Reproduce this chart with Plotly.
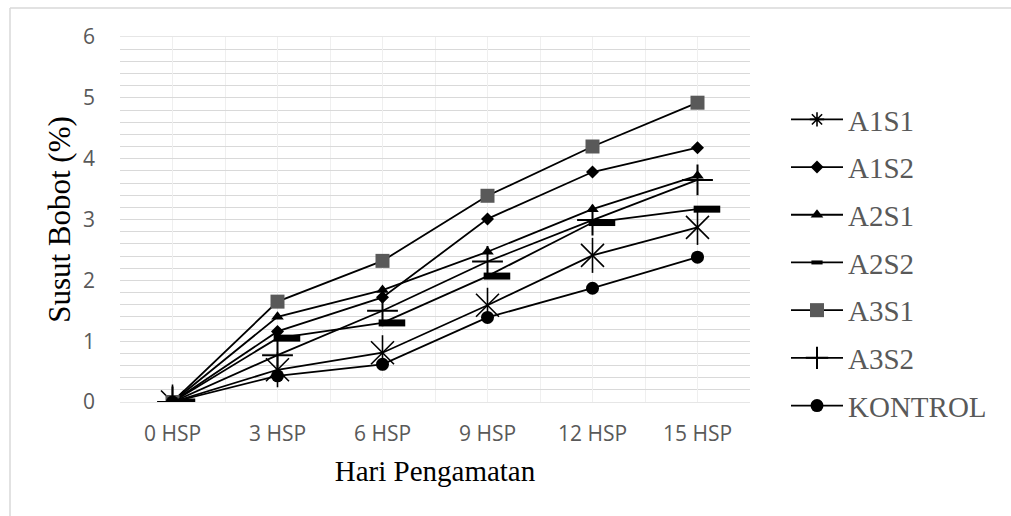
import plotly.graph_objects as go

days = ["0 HSP", "3 HSP", "6 HSP", "9 HSP", "12 HSP", "15 HSP"]
A1S1 = [0, 0.53, 0.81, 1.59, 2.41, 2.87]
A1S2 = [0, 1.16, 1.72, 3.01, 3.78, 4.18]
A2S1 = [0, 1.40, 1.84, 2.47, 3.17, 3.72]
A2S2 = [0, 1.05, 1.30, 2.07, 2.95, 3.17]
A3S1 = [0, 1.65, 2.32, 3.39, 4.20, 4.92]
A3S2 = [0, 0.77, 1.50, 2.31, 2.99, 3.65]
KONTROL = [0, 0.43, 0.62, 1.39, 1.87, 2.38]

xi = list(range(len(days)))
dash_shift = 0.09
LW = 1.8
BLACK = "#000000"

fig = go.Figure()

def line_trace(name, y, symbol, size, color=BLACK, mlw=0, group=None, showlegend=True):
    return go.Scatter(
        x=xi, y=y, name=name, mode="lines+markers",
        line=dict(color=BLACK, width=LW),
        marker=dict(symbol=symbol, size=size, color=color,
                    line=dict(color=color, width=mlw)),
        legendgroup=group or name, showlegend=showlegend,
    )

# A1S1 : star = X + vertical bar
fig.add_trace(line_trace("A1S1", A1S1, "x-thin-open", 23, mlw=1.6, group="A1S1", showlegend=False))
fig.add_trace(go.Scatter(x=xi, y=A1S1, mode="markers", showlegend=False, legendgroup="A1S1",
                         marker=dict(symbol="line-ns-open", size=25, color=BLACK,
                                     line=dict(color=BLACK, width=1.6))))
fig.add_trace(go.Scatter(x=[None], y=[None], name="A1S1", mode="lines+markers", legendgroup="A1S1",
                         line=dict(color=BLACK, width=LW),
                         marker=dict(symbol="asterisk-open", size=12, color=BLACK,
                                     line=dict(color=BLACK, width=1.6))))
fig.add_trace(line_trace("A1S2", A1S2, "diamond", 10))
fig.add_trace(line_trace("A2S1", A2S1, "triangle-up", 11))
# A2S2 : dash marker drawn slightly right of the point, like the original
fig.add_trace(go.Scatter(x=xi, y=A2S2, mode="lines", line=dict(color=BLACK, width=LW),
                         showlegend=False, legendgroup="A2S2"))
fig.add_trace(go.Scatter(x=[v + dash_shift for v in xi], y=A2S2, mode="markers",
                         showlegend=False, legendgroup="A2S2",
                         marker=dict(symbol="line-ew-open", size=19, color=BLACK,
                                     line=dict(color=BLACK, width=7))))
fig.add_trace(go.Scatter(x=[None], y=[None], name="A2S2", mode="lines+markers", legendgroup="A2S2",
                         line=dict(color=BLACK, width=LW),
                         marker=dict(symbol="line-ew-open", size=8, color=BLACK,
                                     line=dict(color=BLACK, width=4))))
fig.add_trace(line_trace("A3S1", A3S1, "square", 14, color="#595959"))
fig.add_trace(line_trace("A3S2", A3S2, "cross-thin-open", 22, mlw=2))
fig.add_trace(line_trace("KONTROL", KONTROL, "circle", 13))

L, R, T, B = 120, 261, 37, 114
W, H = 1011, 516
pw, ph = W - L - R, H - T - B

def px_x(p):
    return (p - L) / pw

def px_y(p):
    return (H - B - p) / ph

fig.update_layout(
    width=W, height=H,
    margin=dict(l=L, r=R, t=T, b=B, autoexpand=False),
    paper_bgcolor="white", plot_bgcolor="white",
    showlegend=True,
    legend=dict(
        x=px_x(786), y=px_y(94), xanchor="left", yanchor="top",
        font=dict(family="Liberation Serif", size=29, color="#595959"),
        traceorder="grouped", tracegroupgap=7, itemwidth=52,
        bgcolor="rgba(0,0,0,0)",
    ),
    xaxis=dict(
        range=[-0.5, 5.5], tickmode="array", tickvals=xi, ticktext=days,
        showgrid=True, gridcolor="#efefef", gridwidth=1.3,
        minor=dict(dtick=0.5, tick0=0.5, showgrid=True, gridcolor="#efefef", gridwidth=1.3),
        showline=True, linecolor="#e6e6e6", linewidth=1.3, mirror=True,
        zeroline=False, ticks="", ticklabelstandoff=13,
        tickfont=dict(family="Open Sans", size=21, color="#595959"),
        title=dict(text="Hari Pengamatan", standoff=14,
                   font=dict(family="Liberation Serif", size=29, color="#000000")),
        fixedrange=True, automargin=False,
    ),
    yaxis=dict(
        range=[0, 6], dtick=1, tick0=0,
        showgrid=True, gridcolor="#d9d9d9", gridwidth=1.3,
        minor=dict(dtick=0.2, showgrid=True, gridcolor="#d9d9d9", gridwidth=1.3),
        zeroline=False, showline=False, ticks="", ticklabelstandoff=24,
        tickfont=dict(family="Open Sans", size=21, color="#595959"),
        title=dict(text="Susut Bobot (%)", standoff=3,
                   font=dict(family="Liberation Serif", size=31, color="#000000")),
        fixedrange=True, automargin=False,
    ),
    shapes=[
        dict(type="line", xref="paper", yref="paper", x0=px_x(10), x1=px_x(W + 5),
             y0=px_y(8), y1=px_y(8), line=dict(color="#d9d9d9", width=1.5), layer="below"),
        dict(type="line", xref="paper", yref="paper", x0=px_x(10), x1=px_x(10),
             y0=px_y(8), y1=px_y(H + 5), line=dict(color="#d9d9d9", width=1.5), layer="below"),
    ],
)

fig.write_html("out.html")
